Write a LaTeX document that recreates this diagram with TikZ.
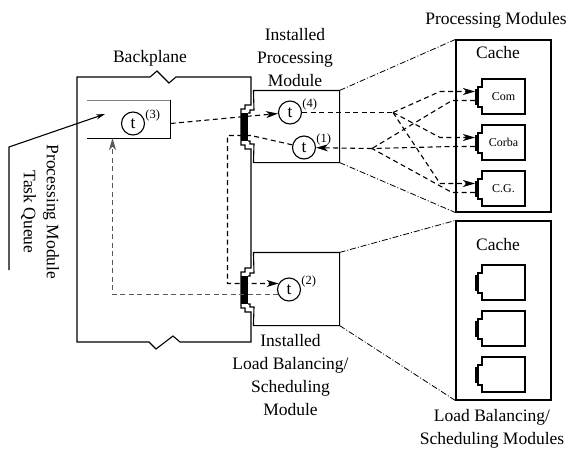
\documentclass[tikz,border=0pt]{standalone}
\usepackage{fontspec}
\setmainfont{Liberation Serif}
\usetikzlibrary{positioning, calc, arrows.meta}

% module card with a plug on its left side: name, left x, top y, text
\newcommand{\modcard}[4]{%
  \draw[fill=white] (#2,#3) -- (#2+43,#3) -- (#2+43,#3+35) -- (#2,#3+35)
    -- (#2,#3+28) -- (#2-4,#3+28) -- (#2-4,#3+8) -- (#2,#3+8) -- cycle;
  \fill (#2-7,#3+10) rectangle (#2-3,#3+26);
  \node[cardtxt] (#1) at (#2+21.5,#3+17.5) {#4};
  \coordinate (#1-in) at (#2-7,#3+12.5);
  \coordinate (#1-out) at (#2-7,#3+21.5);
}

\begin{document}
\begin{tikzpicture}[x=1pt, y=-1pt, line width=1.1pt,
    >={Stealth[length=12pt,width=7pt,inset=3.5pt]},
    every node/.style={font=\fontsize{17.5}{23}\selectfont},
    tok/.style={circle, draw, minimum size=23pt, inner sep=0pt},
    supl/.style={font=\fontsize{12.5}{14}\selectfont, anchor=south west, inner sep=0pt},
    cardtxt/.style={font=\fontsize{12}{14}\selectfont},
    dsh/.style={dash pattern=on 5pt off 3.5pt},
    dd/.style={line width=0.8pt, dash pattern=on 6pt off 2pt on 1pt off 2pt},
    frame/.style={inner sep=0pt}]

    \useasboundingbox (0,0) rectangle (570,450);

    % --- Backplane with its two sockets ---
    \draw (77,77) -- (150,77) -- (157,71) -- (169,83) -- (176,77) -- (251,77)
      -- (251,105) -- (245,105) -- (245,109) -- (241,109) -- (241,145) -- (245,145) -- (245,149) -- (251,149)
      -- (251,268) -- (245,268) -- (245,272) -- (241,272) -- (241,308) -- (245,308) -- (245,312) -- (251,312)
      -- (251,342) -- (180,342) -- (173,336) -- (156,349) -- (149,342) -- (77,342) -- cycle;
    \node (bplbl) at (150,58) {Backplane};

    % --- Task queue ---
    \node[frame, minimum width=82pt, minimum height=37pt] (queue) at (129,119.5) {};
    \draw[gray, line width=1.8pt] (queue.north west) -- (queue.north east);
    \draw (queue.north east) -- (queue.south east) -- (queue.south west);
    \node[tok, label={[supl]10:(3)}] (t3) at (133,123.5) {t};
    \node[rotate=-90, align=center] (qlbl) at (40,212) {Processing Module\\Task Queue};
    \coordinate (qfoot) at (9,270);
    \coordinate (qknee) at (9,147);
    \coordinate (qtip) at (105,114);
    \draw[->, >={Stealth[length=9pt,width=5pt]}] (qfoot) -- (qknee) -- (qtip);

    % --- Installed processing module ---
    \node[frame, minimum width=85pt, minimum height=71pt] (pm) at (296.5,126.5) {};
    \draw (248,113) -- (250,113) -- (250,110) -- (254,110) -- (pm.north west) -- (pm.north east)
      -- (pm.south east) -- (pm.south west) -- (254,144) -- (250,144) -- (250,141) -- (248,141);
    \fill (241,113) rectangle (248,141);
    \node[align=center, above=0pt of pm, xshift=-1.5pt] (pmlbl) {Installed\\Processing\\Module};
    \node[tok, label={[supl]10:(4)}] (t4) at (290,112.5) {t};
    \node[tok, label={[supl]10:(1)}] (t1) at (304,147.5) {t};

    % --- Installed load balancing module ---
    \node[frame, minimum width=85pt, minimum height=72pt] (lb) at (296.5,289) {};
    \draw (248,276) -- (250,276) -- (250,273) -- (254,273) -- (lb.north west) -- (lb.north east)
      -- (lb.south east) -- (lb.south west) -- (254,307) -- (250,307) -- (250,304) -- (248,304);
    \fill (241,276) rectangle (248,304);
    \node[align=center, below=5pt of lb, xshift=-6pt] (lblbl) {Installed\\Load Balancing/\\Scheduling\\Module};
    \node[tok, label={[supl]10:(2)}] (t2) at (289,289.5) {t};

    % --- Caches of modules ---
    \node[draw, minimum width=95pt, minimum height=172pt] (pmbox) at (503.5,126) {};
    \node (pmtitle) at (496,20) {Processing Modules};
    \node (cache1) at (498,53) {Cache};
    \modcard{com}{482}{79}{Com}
    \modcard{corba}{482}{125}{Corba}
    \modcard{cg}{482}{171}{C.G.}

    \node[draw, minimum width=95pt, minimum height=179pt] (lbbox) at (503.5,310.5) {};
    \node[align=center] (lbtitle) at (492,429) {Load Balancing/\\Scheduling Modules};
    \node (cache2) at (498,245) {Cache};
    \modcard{lbm1}{482}{265}{}
    \modcard{lbm2}{482}{311}{}
    \modcard{lbm3}{482}{357}{}

    % --- Projection lines ---
    \draw[dd] (pm.north east) -- (pmbox.north west);
    \draw[dd] (pm.south east) -- (pmbox.south west);
    \draw[dd] (lb.north east) -- (lbbox.north west);
    \draw[dd] (lb.south east) -- (lbbox.south west);

    % --- Task flow inside the backplane ---
    \coordinate (p3) at (245,116.5);
    \coordinate (j1) at (251,135.5);
    \coordinate (j2) at (227.5,135.5);
    \coordinate (qb) at (112.5,138);
    \draw[dsh, ->] (queue.east |- t3) -- (p3) -- (t4);
    \draw[dsh, ->] (t1) -- (j1) -- (j2) -- (j2 |- t2.150) -- (t2.150);
    \draw[dsh, ->, gray!70!black] (t2.205) -- (t2.205 -| qb) -- (qb);

    % --- Task flow to and from the module cache ---
    \coordinate (fanout) at (393,112.5);
    \coordinate (fanin) at (372,148.5);
    \draw[dsh] (t4) -- (fanout);
    \foreach \c in {com,corba,cg}
      \draw[dsh, ->] (fanout) -- ($(\c-in)+(-35,0)$) -- (\c-in);
    \foreach \c in {com,corba,cg}
      \draw[dsh] (\c-out) -- ($(\c-out)+(-23,0)$) -- (fanin);
    \draw[dsh, ->] (fanin) -- (t1);

\end{tikzpicture}
\end{document}
